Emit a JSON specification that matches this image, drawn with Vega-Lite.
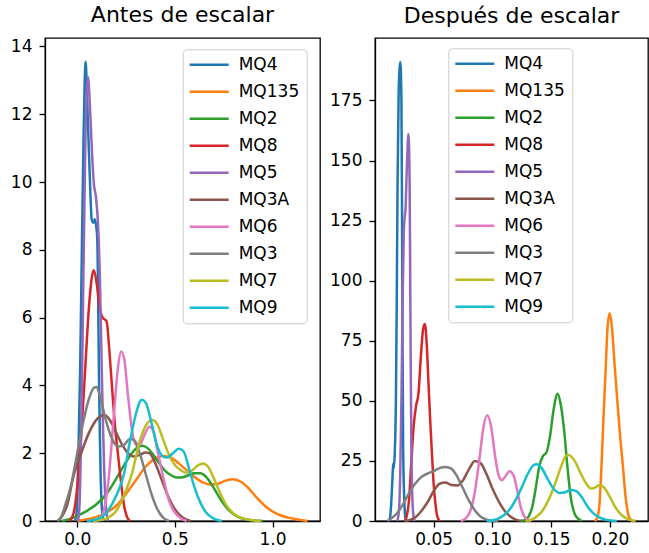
{
"$schema": "https://vega.github.io/schema/vega-lite/v6.json",
"padding": {"left": 9, "top": 3, "right": 0, "bottom": 0},
"background": "white",
"config": {
  "font": "DejaVu Sans",
  "view": {"stroke": "black", "strokeWidth": 1.3},
  "axis": {"grid": false, "domainColor": "black", "domainWidth": 1.3, "tickColor": "black", "tickWidth": 1.3, "tickSize": 6, "labelColor": "black", "labelFontSize": 17, "labelFont": "DejaVu Sans", "labelOverlap": false, "labelFlush": false},
  "axisX": {"labelPadding": 4},
  "axisY": {"labelPadding": 7},
  "title": {"fontSize": 22, "fontWeight": "normal", "font": "DejaVu Sans", "color": "black", "offset": 10, "anchor": "middle"},
  "legend": {"symbolType": "M-3,0H3", "symbolSize": 169, "symbolStrokeWidth": 2.5, "symbolOffset": 11, "labelOffset": 21, "labelFontSize": 17, "labelFont": "DejaVu Sans", "labelColor": "black", "rowPadding": 9, "padding": 7, "fillColor": "rgba(255,255,255,0.8)", "strokeColor": "#cccccc", "cornerRadius": 4, "title": null}
},
"datasets": {
"antes": [
{"sensor":"MQ4","x":-0.012,"y":0},{"sensor":"MQ4","x":-0.004,"y":0.2},{"sensor":"MQ4","x":0.0,"y":0.6},{"sensor":"MQ4","x":0.008,"y":2.5},{"sensor":"MQ4","x":0.015,"y":4.5},{"sensor":"MQ4","x":0.025,"y":8.5},{"sensor":"MQ4","x":0.033,"y":11.5},{"sensor":"MQ4","x":0.038,"y":12.9},{"sensor":"MQ4","x":0.043,"y":13.55},{"sensor":"MQ4","x":0.05,"y":12.6},{"sensor":"MQ4","x":0.058,"y":11.2},{"sensor":"MQ4","x":0.066,"y":9.9},{"sensor":"MQ4","x":0.074,"y":8.9},{"sensor":"MQ4","x":0.082,"y":8.8},{"sensor":"MQ4","x":0.09,"y":8.9},{"sensor":"MQ4","x":0.097,"y":8.7},{"sensor":"MQ4","x":0.102,"y":8.4},{"sensor":"MQ4","x":0.106,"y":7.2},{"sensor":"MQ4","x":0.109,"y":5.5},{"sensor":"MQ4","x":0.112,"y":4.0},{"sensor":"MQ4","x":0.116,"y":2.5},{"sensor":"MQ4","x":0.12,"y":1.3},{"sensor":"MQ4","x":0.125,"y":0.5},{"sensor":"MQ4","x":0.13,"y":0.15},{"sensor":"MQ4","x":0.136,"y":0},
{"sensor":"MQ135","x":0.0,"y":0},{"sensor":"MQ135","x":0.05,"y":0.05},{"sensor":"MQ135","x":0.1,"y":0.12},{"sensor":"MQ135","x":0.15,"y":0.25},{"sensor":"MQ135","x":0.2,"y":0.45},{"sensor":"MQ135","x":0.25,"y":0.8},{"sensor":"MQ135","x":0.3,"y":1.2},{"sensor":"MQ135","x":0.35,"y":1.6},{"sensor":"MQ135","x":0.4,"y":1.85},{"sensor":"MQ135","x":0.44,"y":1.92},{"sensor":"MQ135","x":0.48,"y":1.87},{"sensor":"MQ135","x":0.52,"y":1.7},{"sensor":"MQ135","x":0.56,"y":1.5},{"sensor":"MQ135","x":0.6,"y":1.3},{"sensor":"MQ135","x":0.64,"y":1.15},{"sensor":"MQ135","x":0.68,"y":1.08},{"sensor":"MQ135","x":0.72,"y":1.1},{"sensor":"MQ135","x":0.76,"y":1.19},{"sensor":"MQ135","x":0.8,"y":1.23},{"sensor":"MQ135","x":0.84,"y":1.15},{"sensor":"MQ135","x":0.88,"y":0.95},{"sensor":"MQ135","x":0.92,"y":0.68},{"sensor":"MQ135","x":0.96,"y":0.45},{"sensor":"MQ135","x":1.0,"y":0.28},{"sensor":"MQ135","x":1.04,"y":0.17},{"sensor":"MQ135","x":1.08,"y":0.1},{"sensor":"MQ135","x":1.12,"y":0.05},{"sensor":"MQ135","x":1.179,"y":0},
{"sensor":"MQ2","x":-0.08,"y":0},{"sensor":"MQ2","x":-0.04,"y":0.05},{"sensor":"MQ2","x":0.0,"y":0.15},{"sensor":"MQ2","x":0.05,"y":0.3},{"sensor":"MQ2","x":0.1,"y":0.5},{"sensor":"MQ2","x":0.15,"y":0.8},{"sensor":"MQ2","x":0.2,"y":1.25},{"sensor":"MQ2","x":0.24,"y":1.65},{"sensor":"MQ2","x":0.28,"y":2.0},{"sensor":"MQ2","x":0.31,"y":2.18},{"sensor":"MQ2","x":0.335,"y":2.22},{"sensor":"MQ2","x":0.36,"y":2.15},{"sensor":"MQ2","x":0.39,"y":1.95},{"sensor":"MQ2","x":0.42,"y":1.7},{"sensor":"MQ2","x":0.45,"y":1.48},{"sensor":"MQ2","x":0.48,"y":1.35},{"sensor":"MQ2","x":0.51,"y":1.28},{"sensor":"MQ2","x":0.54,"y":1.29},{"sensor":"MQ2","x":0.57,"y":1.35},{"sensor":"MQ2","x":0.6,"y":1.41},{"sensor":"MQ2","x":0.63,"y":1.41},{"sensor":"MQ2","x":0.66,"y":1.3},{"sensor":"MQ2","x":0.69,"y":1.06},{"sensor":"MQ2","x":0.72,"y":0.77},{"sensor":"MQ2","x":0.75,"y":0.5},{"sensor":"MQ2","x":0.78,"y":0.3},{"sensor":"MQ2","x":0.82,"y":0.13},{"sensor":"MQ2","x":0.86,"y":0.05},{"sensor":"MQ2","x":0.9,"y":0.02},{"sensor":"MQ2","x":0.95,"y":0},
{"sensor":"MQ8","x":-0.04,"y":0},{"sensor":"MQ8","x":-0.02,"y":0.2},{"sensor":"MQ8","x":0.0,"y":1.0},{"sensor":"MQ8","x":0.02,"y":2.5},{"sensor":"MQ8","x":0.04,"y":4.4},{"sensor":"MQ8","x":0.06,"y":6.3},{"sensor":"MQ8","x":0.075,"y":7.2},{"sensor":"MQ8","x":0.085,"y":7.4},{"sensor":"MQ8","x":0.1,"y":7.0},{"sensor":"MQ8","x":0.115,"y":6.3},{"sensor":"MQ8","x":0.13,"y":6.0},{"sensor":"MQ8","x":0.15,"y":5.9},{"sensor":"MQ8","x":0.165,"y":5.0},{"sensor":"MQ8","x":0.18,"y":3.8},{"sensor":"MQ8","x":0.195,"y":2.7},{"sensor":"MQ8","x":0.21,"y":1.9},{"sensor":"MQ8","x":0.225,"y":1.1},{"sensor":"MQ8","x":0.24,"y":0.45},{"sensor":"MQ8","x":0.255,"y":0.12},{"sensor":"MQ8","x":0.27,"y":0},
{"sensor":"MQ5","x":0.004,"y":0},{"sensor":"MQ5","x":0.012,"y":0.5},{"sensor":"MQ5","x":0.018,"y":2},{"sensor":"MQ5","x":0.024,"y":4},{"sensor":"MQ5","x":0.03,"y":6.5},{"sensor":"MQ5","x":0.036,"y":9},{"sensor":"MQ5","x":0.042,"y":11.3},{"sensor":"MQ5","x":0.05,"y":12.8},{"sensor":"MQ5","x":0.056,"y":13.1},{"sensor":"MQ5","x":0.062,"y":12.6},{"sensor":"MQ5","x":0.07,"y":11.6},{"sensor":"MQ5","x":0.078,"y":10.6},{"sensor":"MQ5","x":0.086,"y":9.9},{"sensor":"MQ5","x":0.095,"y":9.6},{"sensor":"MQ5","x":0.1,"y":9.3},{"sensor":"MQ5","x":0.104,"y":9.0},{"sensor":"MQ5","x":0.11,"y":8.3},{"sensor":"MQ5","x":0.116,"y":7.2},{"sensor":"MQ5","x":0.121,"y":5.8},{"sensor":"MQ5","x":0.126,"y":4.4},{"sensor":"MQ5","x":0.132,"y":2.8},{"sensor":"MQ5","x":0.138,"y":1.5},{"sensor":"MQ5","x":0.145,"y":0.6},{"sensor":"MQ5","x":0.152,"y":0.15},{"sensor":"MQ5","x":0.158,"y":0},
{"sensor":"MQ3A","x":-0.1,"y":0},{"sensor":"MQ3A","x":-0.08,"y":0.12},{"sensor":"MQ3A","x":-0.05,"y":0.5},{"sensor":"MQ3A","x":-0.02,"y":1.3},{"sensor":"MQ3A","x":0.02,"y":2.0},{"sensor":"MQ3A","x":0.06,"y":2.6},{"sensor":"MQ3A","x":0.1,"y":3.0},{"sensor":"MQ3A","x":0.14,"y":3.13},{"sensor":"MQ3A","x":0.17,"y":2.95},{"sensor":"MQ3A","x":0.2,"y":2.6},{"sensor":"MQ3A","x":0.23,"y":2.25},{"sensor":"MQ3A","x":0.26,"y":2.0},{"sensor":"MQ3A","x":0.29,"y":1.9},{"sensor":"MQ3A","x":0.32,"y":1.95},{"sensor":"MQ3A","x":0.35,"y":2.02},{"sensor":"MQ3A","x":0.37,"y":2.0},{"sensor":"MQ3A","x":0.4,"y":1.7},{"sensor":"MQ3A","x":0.43,"y":1.25},{"sensor":"MQ3A","x":0.46,"y":0.8},{"sensor":"MQ3A","x":0.5,"y":0.35},{"sensor":"MQ3A","x":0.54,"y":0.1},{"sensor":"MQ3A","x":0.58,"y":0},
{"sensor":"MQ6","x":0.1,"y":0},{"sensor":"MQ6","x":0.13,"y":0.2},{"sensor":"MQ6","x":0.16,"y":1.2},{"sensor":"MQ6","x":0.19,"y":3.3},{"sensor":"MQ6","x":0.21,"y":4.6},{"sensor":"MQ6","x":0.225,"y":5.0},{"sensor":"MQ6","x":0.24,"y":4.8},{"sensor":"MQ6","x":0.26,"y":3.7},{"sensor":"MQ6","x":0.28,"y":2.7},{"sensor":"MQ6","x":0.3,"y":2.25},{"sensor":"MQ6","x":0.32,"y":2.25},{"sensor":"MQ6","x":0.345,"y":2.55},{"sensor":"MQ6","x":0.37,"y":2.78},{"sensor":"MQ6","x":0.39,"y":2.65},{"sensor":"MQ6","x":0.41,"y":2.1},{"sensor":"MQ6","x":0.44,"y":1.3},{"sensor":"MQ6","x":0.47,"y":0.6},{"sensor":"MQ6","x":0.5,"y":0.25},{"sensor":"MQ6","x":0.53,"y":0.08},{"sensor":"MQ6","x":0.56,"y":0},
{"sensor":"MQ3","x":-0.1,"y":0},{"sensor":"MQ3","x":-0.08,"y":0.15},{"sensor":"MQ3","x":-0.06,"y":0.5},{"sensor":"MQ3","x":-0.03,"y":1.1},{"sensor":"MQ3","x":0.0,"y":2.0},{"sensor":"MQ3","x":0.03,"y":2.9},{"sensor":"MQ3","x":0.06,"y":3.6},{"sensor":"MQ3","x":0.085,"y":3.93},{"sensor":"MQ3","x":0.1,"y":3.95},{"sensor":"MQ3","x":0.12,"y":3.6},{"sensor":"MQ3","x":0.15,"y":2.9},{"sensor":"MQ3","x":0.18,"y":2.4},{"sensor":"MQ3","x":0.21,"y":2.2},{"sensor":"MQ3","x":0.24,"y":2.25},{"sensor":"MQ3","x":0.27,"y":2.42},{"sensor":"MQ3","x":0.29,"y":2.4},{"sensor":"MQ3","x":0.32,"y":2.0},{"sensor":"MQ3","x":0.35,"y":1.4},{"sensor":"MQ3","x":0.38,"y":0.8},{"sensor":"MQ3","x":0.41,"y":0.35},{"sensor":"MQ3","x":0.44,"y":0.1},{"sensor":"MQ3","x":0.47,"y":0},
{"sensor":"MQ7","x":0.08,"y":0},{"sensor":"MQ7","x":0.15,"y":0.08},{"sensor":"MQ7","x":0.2,"y":0.3},{"sensor":"MQ7","x":0.25,"y":0.9},{"sensor":"MQ7","x":0.28,"y":1.4},{"sensor":"MQ7","x":0.32,"y":2.35},{"sensor":"MQ7","x":0.35,"y":2.8},{"sensor":"MQ7","x":0.385,"y":2.98},{"sensor":"MQ7","x":0.41,"y":2.85},{"sensor":"MQ7","x":0.44,"y":2.4},{"sensor":"MQ7","x":0.47,"y":1.95},{"sensor":"MQ7","x":0.5,"y":1.65},{"sensor":"MQ7","x":0.53,"y":1.5},{"sensor":"MQ7","x":0.56,"y":1.42},{"sensor":"MQ7","x":0.59,"y":1.5},{"sensor":"MQ7","x":0.62,"y":1.65},{"sensor":"MQ7","x":0.645,"y":1.7},{"sensor":"MQ7","x":0.67,"y":1.6},{"sensor":"MQ7","x":0.7,"y":1.25},{"sensor":"MQ7","x":0.73,"y":0.85},{"sensor":"MQ7","x":0.76,"y":0.5},{"sensor":"MQ7","x":0.8,"y":0.22},{"sensor":"MQ7","x":0.85,"y":0.07},{"sensor":"MQ7","x":0.9,"y":0.02},{"sensor":"MQ7","x":0.94,"y":0},
{"sensor":"MQ9","x":0.05,"y":0},{"sensor":"MQ9","x":0.1,"y":0.05},{"sensor":"MQ9","x":0.15,"y":0.25},{"sensor":"MQ9","x":0.2,"y":0.75},{"sensor":"MQ9","x":0.24,"y":1.4},{"sensor":"MQ9","x":0.27,"y":2.35},{"sensor":"MQ9","x":0.3,"y":3.15},{"sensor":"MQ9","x":0.33,"y":3.58},{"sensor":"MQ9","x":0.35,"y":3.5},{"sensor":"MQ9","x":0.38,"y":2.9},{"sensor":"MQ9","x":0.41,"y":2.2},{"sensor":"MQ9","x":0.44,"y":1.9},{"sensor":"MQ9","x":0.46,"y":1.87},{"sensor":"MQ9","x":0.49,"y":2.0},{"sensor":"MQ9","x":0.52,"y":2.13},{"sensor":"MQ9","x":0.545,"y":2.05},{"sensor":"MQ9","x":0.57,"y":1.6},{"sensor":"MQ9","x":0.6,"y":1.0},{"sensor":"MQ9","x":0.63,"y":0.55},{"sensor":"MQ9","x":0.66,"y":0.25},{"sensor":"MQ9","x":0.7,"y":0.07},{"sensor":"MQ9","x":0.74,"y":0}
],
"despues": [
{"sensor":"MQ4","x":0.0125,"y":0},{"sensor":"MQ4","x":0.0135,"y":5},{"sensor":"MQ4","x":0.0148,"y":17},{"sensor":"MQ4","x":0.0155,"y":24},{"sensor":"MQ4","x":0.016,"y":22},{"sensor":"MQ4","x":0.0168,"y":28},{"sensor":"MQ4","x":0.0178,"y":50},{"sensor":"MQ4","x":0.0185,"y":90},{"sensor":"MQ4","x":0.0192,"y":140},{"sensor":"MQ4","x":0.0202,"y":180},{"sensor":"MQ4","x":0.0216,"y":191},{"sensor":"MQ4","x":0.0225,"y":175},{"sensor":"MQ4","x":0.023,"y":130},{"sensor":"MQ4","x":0.0235,"y":70},{"sensor":"MQ4","x":0.024,"y":30},{"sensor":"MQ4","x":0.025,"y":8},{"sensor":"MQ4","x":0.026,"y":1},{"sensor":"MQ4","x":0.027,"y":0},
{"sensor":"MQ135","x":0.187,"y":0},{"sensor":"MQ135","x":0.189,"y":1},{"sensor":"MQ135","x":0.191,"y":6},{"sensor":"MQ135","x":0.1928,"y":22},{"sensor":"MQ135","x":0.1945,"y":42},{"sensor":"MQ135","x":0.1965,"y":64},{"sensor":"MQ135","x":0.198,"y":80},{"sensor":"MQ135","x":0.1998,"y":86.5},{"sensor":"MQ135","x":0.2015,"y":82},{"sensor":"MQ135","x":0.2042,"y":64},{"sensor":"MQ135","x":0.207,"y":46},{"sensor":"MQ135","x":0.209,"y":34},{"sensor":"MQ135","x":0.2113,"y":22},{"sensor":"MQ135","x":0.213,"y":12},{"sensor":"MQ135","x":0.2145,"y":6},{"sensor":"MQ135","x":0.2158,"y":2.5},{"sensor":"MQ135","x":0.218,"y":0.5},{"sensor":"MQ135","x":0.22,"y":0},
{"sensor":"MQ2","x":0.124,"y":0},{"sensor":"MQ2","x":0.128,"y":0.5},{"sensor":"MQ2","x":0.131,"y":2},{"sensor":"MQ2","x":0.134,"y":6},{"sensor":"MQ2","x":0.137,"y":14},{"sensor":"MQ2","x":0.14,"y":23},{"sensor":"MQ2","x":0.143,"y":27},{"sensor":"MQ2","x":0.146,"y":28.5},{"sensor":"MQ2","x":0.149,"y":35},{"sensor":"MQ2","x":0.152,"y":46},{"sensor":"MQ2","x":0.1555,"y":53},{"sensor":"MQ2","x":0.158,"y":49},{"sensor":"MQ2","x":0.161,"y":38},{"sensor":"MQ2","x":0.164,"y":22},{"sensor":"MQ2","x":0.167,"y":9},{"sensor":"MQ2","x":0.17,"y":3},{"sensor":"MQ2","x":0.173,"y":1},{"sensor":"MQ2","x":0.176,"y":0},
{"sensor":"MQ8","x":0.0255,"y":0},{"sensor":"MQ8","x":0.027,"y":2},{"sensor":"MQ8","x":0.029,"y":9},{"sensor":"MQ8","x":0.031,"y":25},{"sensor":"MQ8","x":0.033,"y":40},{"sensor":"MQ8","x":0.035,"y":48},{"sensor":"MQ8","x":0.037,"y":53},{"sensor":"MQ8","x":0.039,"y":68},{"sensor":"MQ8","x":0.041,"y":80},{"sensor":"MQ8","x":0.0425,"y":82},{"sensor":"MQ8","x":0.044,"y":74},{"sensor":"MQ8","x":0.0455,"y":58},{"sensor":"MQ8","x":0.047,"y":42},{"sensor":"MQ8","x":0.0485,"y":28},{"sensor":"MQ8","x":0.05,"y":15},{"sensor":"MQ8","x":0.0515,"y":7},{"sensor":"MQ8","x":0.053,"y":2},{"sensor":"MQ8","x":0.055,"y":0},
{"sensor":"MQ5","x":0.019,"y":0},{"sensor":"MQ5","x":0.0205,"y":5},{"sensor":"MQ5","x":0.0215,"y":20},{"sensor":"MQ5","x":0.0225,"y":50},{"sensor":"MQ5","x":0.0235,"y":90},{"sensor":"MQ5","x":0.0245,"y":120},{"sensor":"MQ5","x":0.0252,"y":126},{"sensor":"MQ5","x":0.026,"y":130},{"sensor":"MQ5","x":0.0272,"y":148},{"sensor":"MQ5","x":0.0285,"y":161},{"sensor":"MQ5","x":0.0295,"y":140},{"sensor":"MQ5","x":0.03,"y":100},{"sensor":"MQ5","x":0.0305,"y":60},{"sensor":"MQ5","x":0.031,"y":30},{"sensor":"MQ5","x":0.0318,"y":10},{"sensor":"MQ5","x":0.0328,"y":2},{"sensor":"MQ5","x":0.034,"y":0},
{"sensor":"MQ3A","x":0.025,"y":0},{"sensor":"MQ3A","x":0.03,"y":0.5},{"sensor":"MQ3A","x":0.035,"y":1.8},{"sensor":"MQ3A","x":0.04,"y":4.5},{"sensor":"MQ3A","x":0.045,"y":8},{"sensor":"MQ3A","x":0.05,"y":12.5},{"sensor":"MQ3A","x":0.055,"y":15.5},{"sensor":"MQ3A","x":0.06,"y":16},{"sensor":"MQ3A","x":0.065,"y":15},{"sensor":"MQ3A","x":0.07,"y":14.8},{"sensor":"MQ3A","x":0.075,"y":17},{"sensor":"MQ3A","x":0.08,"y":21.5},{"sensor":"MQ3A","x":0.085,"y":25},{"sensor":"MQ3A","x":0.09,"y":24},{"sensor":"MQ3A","x":0.095,"y":19.5},{"sensor":"MQ3A","x":0.1,"y":13.5},{"sensor":"MQ3A","x":0.105,"y":8.5},{"sensor":"MQ3A","x":0.11,"y":4.5},{"sensor":"MQ3A","x":0.115,"y":2},{"sensor":"MQ3A","x":0.12,"y":0.6},{"sensor":"MQ3A","x":0.125,"y":0},
{"sensor":"MQ6","x":0.073,"y":0},{"sensor":"MQ6","x":0.077,"y":1},{"sensor":"MQ6","x":0.081,"y":4},{"sensor":"MQ6","x":0.085,"y":12},{"sensor":"MQ6","x":0.089,"y":26},{"sensor":"MQ6","x":0.092,"y":38},{"sensor":"MQ6","x":0.0955,"y":44},{"sensor":"MQ6","x":0.099,"y":39},{"sensor":"MQ6","x":0.102,"y":28},{"sensor":"MQ6","x":0.105,"y":19.5},{"sensor":"MQ6","x":0.108,"y":17},{"sensor":"MQ6","x":0.111,"y":18.5},{"sensor":"MQ6","x":0.1145,"y":20.7},{"sensor":"MQ6","x":0.118,"y":19},{"sensor":"MQ6","x":0.121,"y":13},{"sensor":"MQ6","x":0.124,"y":6},{"sensor":"MQ6","x":0.127,"y":2},{"sensor":"MQ6","x":0.13,"y":0.5},{"sensor":"MQ6","x":0.133,"y":0},
{"sensor":"MQ3","x":0.0105,"y":0},{"sensor":"MQ3","x":0.015,"y":1.5},{"sensor":"MQ3","x":0.02,"y":4},{"sensor":"MQ3","x":0.025,"y":8},{"sensor":"MQ3","x":0.03,"y":12.5},{"sensor":"MQ3","x":0.035,"y":16},{"sensor":"MQ3","x":0.04,"y":18.5},{"sensor":"MQ3","x":0.045,"y":19.8},{"sensor":"MQ3","x":0.05,"y":20.8},{"sensor":"MQ3","x":0.055,"y":22},{"sensor":"MQ3","x":0.06,"y":22.5},{"sensor":"MQ3","x":0.065,"y":21.8},{"sensor":"MQ3","x":0.07,"y":18.5},{"sensor":"MQ3","x":0.075,"y":13.5},{"sensor":"MQ3","x":0.08,"y":8.5},{"sensor":"MQ3","x":0.085,"y":4.5},{"sensor":"MQ3","x":0.09,"y":1.8},{"sensor":"MQ3","x":0.095,"y":0.6},{"sensor":"MQ3","x":0.1,"y":0.1},{"sensor":"MQ3","x":0.105,"y":0},
{"sensor":"MQ7","x":0.128,"y":0},{"sensor":"MQ7","x":0.133,"y":0.5},{"sensor":"MQ7","x":0.138,"y":2},{"sensor":"MQ7","x":0.143,"y":4.5},{"sensor":"MQ7","x":0.148,"y":9},{"sensor":"MQ7","x":0.153,"y":15},{"sensor":"MQ7","x":0.158,"y":22},{"sensor":"MQ7","x":0.1625,"y":27},{"sensor":"MQ7","x":0.165,"y":27.5},{"sensor":"MQ7","x":0.17,"y":25},{"sensor":"MQ7","x":0.175,"y":20},{"sensor":"MQ7","x":0.18,"y":15.5},{"sensor":"MQ7","x":0.184,"y":13.5},{"sensor":"MQ7","x":0.188,"y":14},{"sensor":"MQ7","x":0.191,"y":15},{"sensor":"MQ7","x":0.195,"y":14},{"sensor":"MQ7","x":0.2,"y":10},{"sensor":"MQ7","x":0.205,"y":5.5},{"sensor":"MQ7","x":0.21,"y":2.5},{"sensor":"MQ7","x":0.215,"y":0.9},{"sensor":"MQ7","x":0.22,"y":0.2},{"sensor":"MQ7","x":0.222,"y":0},
{"sensor":"MQ9","x":0.095,"y":0},{"sensor":"MQ9","x":0.1,"y":0.3},{"sensor":"MQ9","x":0.105,"y":1.0},{"sensor":"MQ9","x":0.11,"y":2.5},{"sensor":"MQ9","x":0.115,"y":5},{"sensor":"MQ9","x":0.12,"y":9},{"sensor":"MQ9","x":0.125,"y":14},{"sensor":"MQ9","x":0.13,"y":19.5},{"sensor":"MQ9","x":0.135,"y":23.2},{"sensor":"MQ9","x":0.1375,"y":23.6},{"sensor":"MQ9","x":0.142,"y":22},{"sensor":"MQ9","x":0.147,"y":17.5},{"sensor":"MQ9","x":0.152,"y":13.5},{"sensor":"MQ9","x":0.157,"y":11.7},{"sensor":"MQ9","x":0.162,"y":12},{"sensor":"MQ9","x":0.167,"y":12.9},{"sensor":"MQ9","x":0.171,"y":12.5},{"sensor":"MQ9","x":0.176,"y":10},{"sensor":"MQ9","x":0.181,"y":6},{"sensor":"MQ9","x":0.186,"y":3.2},{"sensor":"MQ9","x":0.191,"y":1.5},{"sensor":"MQ9","x":0.196,"y":0.6},{"sensor":"MQ9","x":0.201,"y":0.2},{"sensor":"MQ9","x":0.206,"y":0}
]
},
"hconcat": [
{
  "title": "Antes de escalar",
  "width": 275, "height": 483,
  "data": {"name": "antes"},
  "mark": {"type": "line", "interpolate": "monotone", "strokeWidth": 2.5},
  "encoding": {
    "x": {"field": "x", "type": "quantitative", "scale": {"domain": [-0.165, 1.243], "nice": false, "zero": false}, "axis": {"values": [0, 0.5, 1.0], "format": ".1f", "title": null}},
    "y": {"field": "y", "type": "quantitative", "scale": {"domain": [0, 14.25], "nice": false}, "axis": {"values": [0, 2, 4, 6, 8, 10, 12, 14], "format": "d", "title": null}},
    "color": {"field": "sensor", "type": "nominal", "sort": null,
      "scale": {"domain": ["MQ4","MQ135","MQ2","MQ8","MQ5","MQ3A","MQ6","MQ3","MQ7","MQ9"], "range": ["#1f77b4","#ff7f0e","#2ca02c","#d62728","#9467bd","#8c564b","#e377c2","#7f7f7f","#bcbd22","#17becf"]},
      "legend": {"orient": "none", "legendX": 137.7, "legendY": 11.3}}
  }
},
{
  "title": "Después de escalar",
  "width": 273, "height": 483,
  "data": {"name": "despues"},
  "mark": {"type": "line", "interpolate": "monotone", "strokeWidth": 2.5},
  "encoding": {
    "x": {"field": "x", "type": "quantitative", "scale": {"domain": [0.0, 0.2325], "nice": false, "zero": false}, "axis": {"values": [0.05, 0.1, 0.15, 0.2], "format": ".2f", "title": null}},
    "y": {"field": "y", "type": "quantitative", "scale": {"domain": [0, 201], "nice": false}, "axis": {"values": [0, 25, 50, 75, 100, 125, 150, 175], "format": "d", "title": null}},
    "color": {"field": "sensor", "type": "nominal", "sort": null,
      "scale": {"domain": ["MQ4","MQ135","MQ2","MQ8","MQ5","MQ3A","MQ6","MQ3","MQ7","MQ9"], "range": ["#1f77b4","#ff7f0e","#2ca02c","#d62728","#9467bd","#8c564b","#e377c2","#7f7f7f","#bcbd22","#17becf"]},
      "legend": {"orient": "none", "legendX": 73.3, "legendY": 10.3}}
  }
}
],
"spacing": 55,
"bounds": "flush",
"resolve": {"legend": {"color": "independent"}, "scale": {"color": "independent"}}
}
